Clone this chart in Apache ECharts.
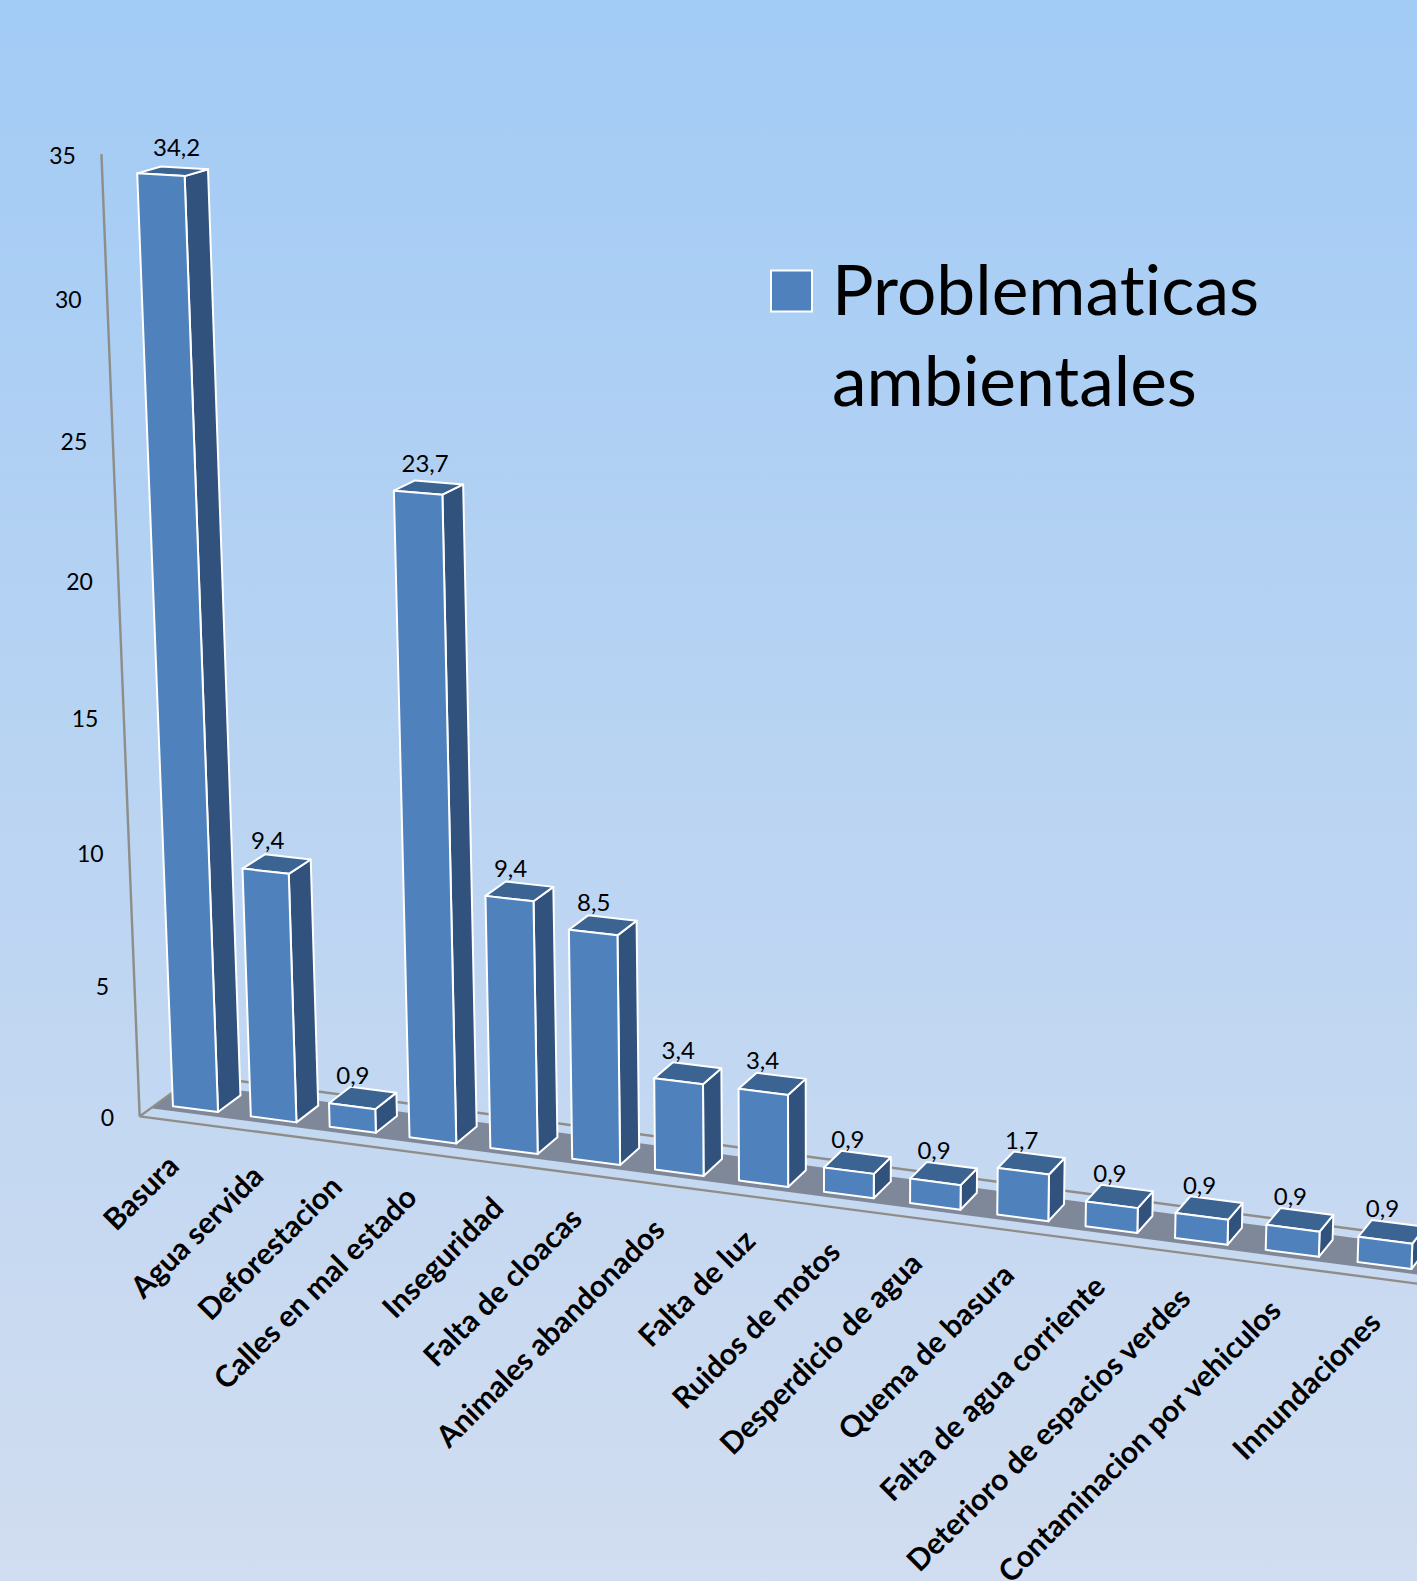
<!DOCTYPE html>
<html>
<head>
<meta charset="utf-8">
<style>html,body{margin:0;padding:0;overflow:hidden}#c{width:1417px;height:1581px}svg text{font-variant-ligatures:none}</style>
<script src="https://cdn.jsdelivr.net/npm/echarts@6/dist/echarts.min.js"></script>
</head>
<body>
<div id="c"></div>
<script>
const categories = ['Basura','Agua servida','Deforestacion','Calles en mal estado','Inseguridad','Falta de cloacas','Animales abandonados','Falta de luz','Ruidos de motos','Desperdicio de agua','Quema de basura','Falta de agua corriente','Deterioro de espacios verdes','Contaminacion por vehiculos','Innundaciones'];
const seriesValues = [34.2,9.4,0.9,23.7,9.4,8.5,3.4,3.4,0.9,0.9,1.7,0.9,0.9,0.9,0.9];
const yTicks = [0,5,10,15,20,25,30,35];
const seriesName = 'Problematicas ambientales';

// Perspective of the plot: corners of the front plane and how depth shifts them.
const front = {c00:[156.7,1104],c10:[1431,1271.6],c11:[1470,226],c01:[119.2,149.3]};
const depth = {c00:[23,-16.7],c10:[13,-17],c11:[12,-7],c01:[24,-6.5]};
const D_AXIS=-0.74, D_FLOOR_FRONT=-0.25, D_FLOOR_BACK=1.25, D_WALL=1.72;
const LABEL_FONT='Lato';
// Small horizontal shifts of the slanted category labels, as the original placed them.
const labelShift=[-7,-1,-2,-8,-3,-7,-8,-2,-3,-8,-4,-2,-7,-8,-1];

function warp(px,py,d,cs){
  const s=(px-cs.x)/cs.width, t=(cs.y+cs.height-py)/cs.height;
  const q=k=>[front[k][0]+d*depth[k][0],front[k][1]+d*depth[k][1]];
  const [x0,y0]=q('c00'),[x1,y1]=q('c10'),[x2,y2]=q('c11'),[x3,y3]=q('c01');
  const dx1=x1-x2,dx2=x3-x2,sx=x0-x1+x2-x3,dy1=y1-y2,dy2=y3-y2,sy=y0-y1+y2-y3;
  const den=dx1*dy2-dx2*dy1;
  const g=(sx*dy2-dx2*sy)/den,h=(dx1*sy-sx*dy1)/den;
  const a=x1-x0+g*x1,b=x3-x0+h*x3,e=y1-y0+g*y1,f=y3-y0+h*y3;
  const w=g*s+h*t+1;
  return [(a*s+b*t+x0)/w,(e*s+f*t+y0)/w];
}

function renderFrame(params,api){
  const cs=params.coordSys;
  const L=cs.x,R=cs.x+cs.width,B=cs.y+cs.height,T=cs.y;
  const line=(p,q)=>({type:'line',shape:{x1:p[0],y1:p[1],x2:q[0],y2:q[1]},style:{stroke:'#8f8d88',lineWidth:2.4}});
  return {type:'group',children:[
    {type:'polygon',shape:{points:[warp(L,B,D_FLOOR_FRONT,cs),warp(R,B,D_FLOOR_FRONT,cs),warp(R,B,D_FLOOR_BACK,cs),warp(L,B,D_FLOOR_BACK,cs)]},style:{fill:'#7f8899'}},
    line(warp(L,T,D_AXIS,cs),warp(L,B,D_AXIS,cs)),
    line(warp(L,B,D_AXIS,cs),warp(R,B,D_AXIS,cs)),
    line(warp(L,B,D_AXIS,cs),warp(L,B,D_WALL,cs)),
    line(warp(L,B,D_WALL,cs),warp(R,B,D_WALL,cs))
  ]};
}

function renderTick(params,api){
  const cs=params.coordSys;
  const v=api.value(1);
  const p=api.coord([0,v]);
  const q=warp(cs.x,p[1],D_AXIS,cs);
  return {type:'text',x:q[0]-25.5,y:q[1]+1,style:{text:String(v),font:'23px '+LABEL_FONT,fill:'#000',align:'right',verticalAlign:'middle'}};
}

function renderBar(params,api){
  const cs=params.coordSys;
  const i=api.value(0),v=api.value(1);
  const top=api.coord([i,v]),base=api.coord([i,0]);
  const hw=api.size([1,0])[0]*0.29;
  const xl=top[0]-hw,xr=top[0]+hw;
  const fbl=warp(xl,base[1],0,cs),fbr=warp(xr,base[1],0,cs),ftl=warp(xl,top[1],0,cs),ftr=warp(xr,top[1],0,cs);
  const bbr=warp(xr,base[1],1,cs),btl=warp(xl,top[1],1,cs),btr=warp(xr,top[1],1,cs);
  const st=fill=>({fill:fill,stroke:'#fff',lineWidth:2,lineJoin:'round'});
  const tick=warp(top[0],base[1],D_AXIS,cs);
  return {type:'group',children:[
    {type:'polygon',shape:{points:[ftr,btr,bbr,fbr]},style:st('#31527d')},
    {type:'polygon',shape:{points:[ftl,btl,btr,ftr]},style:st('#3c6493')},
    {type:'polygon',shape:{points:[fbl,fbr,ftr,ftl]},style:st('#4f81bd')},
    {type:'text',x:btl[0]+1+0.68*i+0.0125*v*v,y:btl[1]-12-0.25*v,style:{text:String(v).replace('.',','),font:'24px '+LABEL_FONT,fill:'#000',align:'center',verticalAlign:'middle'}},
    {type:'text',x:tick[0]+0.5+labelShift[i],y:tick[1]+38,rotation:45*Math.PI/180,style:{text:categories[i],font:'bold 30px '+LABEL_FONT,fill:'#000',align:'right',verticalAlign:'middle'}}
  ]};
}

const chart=echarts.init(document.getElementById('c'),null,{renderer:'svg',width:1417,height:1581});
chart.setOption({
  animation:false,
  backgroundColor:{type:'linear',x:0,y:0,x2:0,y2:1,colorStops:[{offset:0,color:'#a2cbf5'},{offset:1,color:'#d1ddf0'}]},
  grid:{left:100,top:100,width:1200,height:1000},
  xAxis:{type:'category',data:categories,show:false},
  yAxis:{type:'value',min:0,max:35,interval:5,show:false},
  legend:{
    data:[seriesName],left:765,top:190,icon:'rect',itemWidth:41,itemHeight:41,selectedMode:false,
    itemStyle:{color:'#4f81bd',borderColor:'#fff',borderWidth:2},
    formatter:()=>'{e|\u00a0}\n{t|Problematicas}\n{t|ambientales}',
    textStyle:{padding:[0,0,0,15],rich:{
      e:{fontSize:10,lineHeight:85},
      t:{fontFamily:LABEL_FONT,fontSize:69.5,lineHeight:91,color:'#000'}
    }}
  },
  series:[
    {type:'custom',name:'frame',silent:true,z:1,renderItem:renderFrame,data:[[0,0]],encode:{x:0,y:1}},
    {type:'custom',name:'ticks',silent:true,z:1,renderItem:renderTick,data:yTicks.map(t=>[0,t]),encode:{x:0,y:1}},
    {type:'custom',name:seriesName,silent:true,z:2,renderItem:renderBar,itemStyle:{color:'#4f81bd'},data:seriesValues.map((v,i)=>[i,v]),encode:{x:0,y:1}}
  ]
});
</script>
</body>
</html>
